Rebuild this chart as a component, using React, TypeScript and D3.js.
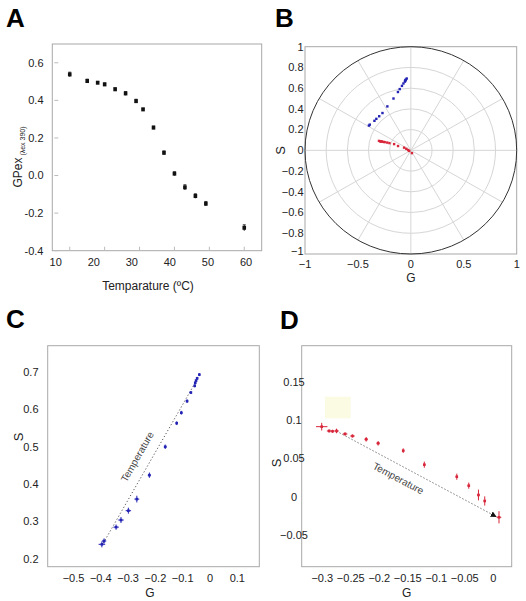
import React from 'react';
import * as d3 from 'd3';

// Panel A: GP vs temperature
const tempA = [10, 15, 18, 20, 23, 26, 29, 31, 34, 37, 40, 43, 46, 49, 60];
const gpA = [0.538, 0.503, 0.494, 0.485, 0.459, 0.437, 0.396, 0.352, 0.255, 0.121, 0.01, -0.063, -0.109, -0.15, -0.278];
const gpErrA = [0.012, 0.01, 0.005, 0.008, 0.008, 0.01, 0.01, 0.006, 0.008, 0.01, 0.01, 0.014, 0.012, 0.012, 0.016];
const xTicksA = [10, 20, 30, 40, 50, 60];
const yTicksA = [-0.4, -0.2, 0, 0.2, 0.4, 0.6];

// Panel C (blue series)
const gC = [-0.039, -0.047, -0.051, -0.054, -0.056, -0.07, -0.084, -0.105, -0.122, -0.164, -0.222, -0.268, -0.299, -0.326, -0.344, -0.388, -0.396];
const sC = [0.693, 0.683, 0.677, 0.671, 0.663, 0.645, 0.622, 0.591, 0.563, 0.5, 0.424, 0.36, 0.329, 0.304, 0.285, 0.248, 0.239];
const gErrC = [0.003, 0.003, 0.003, 0.003, 0.003, 0.004, 0.004, 0.004, 0.004, 0.005, 0.006, 0.009, 0.01, 0.01, 0.01, 0.008, 0.012];
const sErrC = [0.004, 0.004, 0.004, 0.004, 0.004, 0.004, 0.005, 0.005, 0.005, 0.006, 0.007, 0.009, 0.008, 0.008, 0.007, 0.007, 0.008];
const xTicksC = [-0.5, -0.4, -0.3, -0.2, -0.1, 0, 0.1];
const yTicksC = [0.2, 0.3, 0.4, 0.5, 0.6, 0.7];

// Panel D (red series)
const gD = [-0.301, -0.288, -0.282, -0.275, -0.26, -0.247, -0.223, -0.202, -0.158, -0.121, -0.064, -0.043, -0.026, -0.015, 0.01];
const sD = [0.0914, 0.0858, 0.0854, 0.0858, 0.0819, 0.0792, 0.0749, 0.0697, 0.0601, 0.0418, 0.0261, 0.0144, 0.0022, -0.0056, -0.0269];
const gErrD = [0.01, 0.004, 0.003, 0.004, 0.004, 0.004, 0.003, 0.003, 0.002, 0.002, 0.002, 0.002, 0.002, 0.002, 0.004];
const sErrD = [0.005, 0.002, 0.002, 0.003, 0.002, 0.002, 0.003, 0.003, 0.003, 0.004, 0.004, 0.004, 0.007, 0.006, 0.008];
const xTicksD = [-0.3, -0.25, -0.2, -0.15, -0.1, -0.05, 0];
const yTicksD = [-0.05, 0, 0.05, 0.1, 0.15];

// Panel B (phasor plot)
const xTicksB = [-1, -0.5, 0, 0.5, 1];
const yTicksB = [-1, -0.8, -0.6, -0.4, -0.2, 0, 0.2, 0.4, 0.6, 0.8, 1];
const gridRadiiB = [0.2, 0.4, 0.6, 0.8];
const spokeAnglesB = [0, 30, 60, 90, 120, 150, 180, 210, 240, 270, 300, 330];

const FONT = '"Liberation Sans", Arial, Helvetica, sans-serif';
const FRAME = '#a8a8a8';
const BLUE = '#2424b4';
const RED = '#d8263a';

const fmt = (v: number) => {
  const s = d3.format('~g')(+v.toFixed(3));
  return s === '-0' ? '0' : s;
};

function PanelA() {
  const x = d3.scaleLinear().domain([5, 65]).range([52.3, 261.7]);
  const xl = d3.scaleLinear().domain([10, 60]).range([55.7, 246]);
  const y = d3.scaleLinear().domain([-0.4, 0.7]).range([250.7, 44]);
  return (
    <g>
      <text x={6} y={27} fontSize={26} fontWeight="bold" fontFamily={FONT}>A</text>
      <rect x={x(5)} y={y(0.7)} width={x(65) - x(5)} height={y(-0.4) - y(0.7)} fill="none" stroke={FRAME} />
      {yTicksA.map((t) => (
        <g key={t}>
          <line x1={x(5) + 2} x2={x(5) + 6} y1={y(t)} y2={y(t)} stroke="#bbb" />
          <text x={43.5} y={y(t)} dy="0.35em" textAnchor="end" fontSize={11} fontFamily={FONT} fill="#222">
            {t.toFixed(1)}
          </text>
        </g>
      ))}
      {xTicksA.map((t) => (
        <g key={t}>
          <line x1={x(t)} x2={x(t)} y1={y(-0.4)} y2={y(-0.4) - 4} stroke="#bbb" />
          <text x={xl(t)} y={266} textAnchor="middle" fontSize={11} fontFamily={FONT} fill="#222">{t}</text>
        </g>
      ))}
      <text x={148} y={290} textAnchor="middle" fontSize={12} fontFamily={FONT} fill="#222">Temparature (ºC)</text>
      <text transform="translate(21.5,157) rotate(-90)" textAnchor="middle" fontSize={12} fontFamily={FONT} fill="#222">
        GPex<tspan fontSize={7} dy={3}> (λex 390)</tspan>
      </text>
      {tempA.map((t, i) => (
        <g key={i}>
          <line x1={x(t)} x2={x(t)} y1={y(gpA[i] + gpErrA[i])} y2={y(gpA[i] - gpErrA[i])} stroke="#222" />
          <line x1={x(t) - 1.5} x2={x(t) + 1.5} y1={y(gpA[i] + gpErrA[i])} y2={y(gpA[i] + gpErrA[i])} stroke="#444" />
          <rect x={x(t) - 1.8} y={y(gpA[i]) - 2} width={3.6} height={4} fill="#111" />
        </g>
      ))}
    </g>
  );
}

function PanelB() {
  const x = d3.scaleLinear().domain([-1, 1]).range([305, 516.7]);
  const y = d3.scaleLinear().domain([-1, 1]).range([254, 46.7]);
  const cx = x(0), cy = y(0);
  const rx = (r: number) => x(r) - x(0);
  const ry = (r: number) => y(0) - y(r);
  return (
    <g>
      <text x={275} y={27} fontSize={26} fontWeight="bold" fontFamily={FONT}>B</text>
      <rect x={x(-1)} y={y(1)} width={x(1) - x(-1)} height={y(-1) - y(1)} fill="none" stroke={FRAME} />
      {gridRadiiB.map((r) => (
        <ellipse key={r} cx={cx} cy={cy} rx={rx(r)} ry={ry(r)} fill="none" stroke="#d6d6d6" />
      ))}
      {spokeAnglesB.map((a) => {
        const rad = (a * Math.PI) / 180;
        return (
          <line key={a} x1={cx} y1={cy} x2={x(Math.cos(rad))} y2={y(Math.sin(rad))} stroke="#d6d6d6" />
        );
      })}
      <ellipse cx={cx} cy={cy} rx={rx(1)} ry={ry(1)} fill="none" stroke="#333" strokeWidth={1} />
      {yTicksB.map((t) => (
        <text key={t} x={303.5} y={y(t) - (t === -1 ? 3 : 0)} dy="0.35em" textAnchor="end" fontSize={11} fontFamily={FONT} fill="#222">
          {fmt(t)}
        </text>
      ))}
      {xTicksB.map((t) => (
        <text key={t} x={x(t)} y={268} textAnchor="middle" fontSize={11} fontFamily={FONT} fill="#222">{fmt(t)}</text>
      ))}
      <text x={x(0)} y={282} textAnchor="middle" fontSize={12} fontFamily={FONT} fill="#222">G</text>
      <text transform={`translate(285,${cy}) rotate(-90)`} textAnchor="middle" fontSize={13} fontFamily={FONT} fill="#222">S</text>
      {gC.map((g, i) => (
        <rect key={'b' + i} x={x(g) - 1.2} y={y(sC[i]) - 1.2} width={2.4} height={2.4} fill={BLUE} />
      ))}
      {gD.map((g, i) => (
        <rect key={'r' + i} x={x(g) - 1.2} y={y(sD[i]) - 1.2} width={2.4} height={2.4} fill={RED} />
      ))}
    </g>
  );
}

function Cross({ px, py, x0, x1, y0, y1, color }: any) {
  return (
    <g>
      <line x1={x0} x2={x1} y1={py} y2={py} stroke={color} strokeWidth={1} />
      <line x1={px} x2={px} y1={y0} y2={y1} stroke={color} strokeWidth={1} />
      <rect x={px - 1.3} y={py - 1.3} width={2.6} height={2.6} fill={color} />
    </g>
  );
}

function PanelC() {
  const x = d3.scaleLinear().domain([-0.5945, 0.1806]).range([47.7, 259.3]);
  const y = d3.scaleLinear().domain([0.1792, 0.7703]).range([566.7, 345.7]);
  const [x0, x1] = x.domain();
  const [y0, y1] = y.domain();
  const lx1 = x(-0.391), ly1 = y(0.242), lx2 = x(-0.049), ly2 = y(0.678);
  const ang = (Math.atan2(ly2 - ly1, lx2 - lx1) * 180) / Math.PI;
  return (
    <g>
      <text x={6} y={328} fontSize={26} fontWeight="bold" fontFamily={FONT}>C</text>
      <rect x={x(x0)} y={y(y1)} width={x(x1) - x(x0)} height={y(y0) - y(y1)} fill="none" stroke={FRAME} />
      {yTicksC.map((t) => (
        <text key={t} x={38.5} y={y(t)} dy="0.35em" textAnchor="end" fontSize={11} fontFamily={FONT} fill="#222">
          {t.toFixed(1)}
        </text>
      ))}
      {xTicksC.map((t) => (
        <text key={t} x={x(t)} y={582} textAnchor="middle" fontSize={11} fontFamily={FONT} fill="#222">{fmt(t)}</text>
      ))}
      <text x={150} y={597} textAnchor="middle" fontSize={12} fontFamily={FONT} fill="#222">G</text>
      <text transform="translate(23,437) rotate(-90)" textAnchor="middle" fontSize={13} fontFamily={FONT} fill="#222">S</text>
      <line x1={lx1} y1={ly1} x2={lx2} y2={ly2} stroke="#555" strokeDasharray="1.2,2.2" strokeWidth={1} />
      <text transform={`translate(137.3,456.7) rotate(${ang})`} textAnchor="middle" dy="0.35em" fontSize={10} fontFamily={FONT} fill="#444">
        Temperature
      </text>
      {gC.map((g, i) => (
        <Cross key={i} px={x(g)} py={y(sC[i])} x0={x(g - gErrC[i])} x1={x(g + gErrC[i])} y0={y(sC[i] - sErrC[i])} y1={y(sC[i] + sErrC[i])} color={BLUE} />
      ))}
    </g>
  );
}

function PanelD() {
  const x = d3.scaleLinear().domain([-0.3361, 0.0323]).range([301.7, 511.7]);
  const y = d3.scaleLinear().domain([-0.0914, 0.1971]).range([566.7, 345.7]);
  const [x0, x1] = x.domain();
  const [y0, y1] = y.domain();
  const lx1 = x(-0.275), ly1 = y(0.0855), lx2 = x(0.005), ly2 = y(-0.026);
  const ang = (Math.atan2(ly2 - ly1, lx2 - lx1) * 180) / Math.PI;
  return (
    <g>
      <defs>
        <marker id="arrD" viewBox="0 0 10 10" refX="9" refY="5" markerWidth="6" markerHeight="6" orient="auto">
          <path d="M0,0 L10,5 L0,10 z" fill="#111" />
        </marker>
      </defs>
      <text x={280} y={329} fontSize={26} fontWeight="bold" fontFamily={FONT}>D</text>
      <rect x={x(x0)} y={y(y1)} width={x(x1) - x(x0)} height={y(y0) - y(y1)} fill="none" stroke={FRAME} />
      <rect x={325} y={396.7} width={25.7} height={21.6} fill="#fbfbe4" />
      {yTicksD.map((t) => (
        <text key={t} x={294} y={y(t)} dy="0.35em" textAnchor="middle" fontSize={11} fontFamily={FONT} fill="#222">
          {fmt(t)}
        </text>
      ))}
      {xTicksD.map((t) => (
        <text key={t} x={x(t)} y={582} textAnchor="middle" fontSize={11} fontFamily={FONT} fill="#222">{fmt(t)}</text>
      ))}
      <text x={406.7} y={597} textAnchor="middle" fontSize={12} fontFamily={FONT} fill="#222">G</text>
      <text transform="translate(281,463) rotate(-90)" textAnchor="middle" fontSize={13} fontFamily={FONT} fill="#222">S</text>
      <line x1={lx1} y1={ly1} x2={lx2} y2={ly2} stroke="#555" strokeDasharray="1.2,2.2" strokeWidth={1} markerEnd="url(#arrD)" />
      <text transform={`translate(398.3,478.3) rotate(${ang})`} textAnchor="middle" dy="0.35em" fontSize={10} fontFamily={FONT} fill="#444">
        Temperature
      </text>
      {gD.map((g, i) => (
        <Cross key={i} px={x(g)} py={y(sD[i])} x0={x(g - gErrD[i])} x1={x(g + gErrD[i])} y0={y(sD[i] - sErrD[i])} y1={y(sD[i] + sErrD[i])} color={RED} />
      ))}
    </g>
  );
}

export default function App() {
  return (
    <svg width={526} height={601} style={{ position: 'absolute', left: 0, top: 0, background: '#fff' }}>
      <rect width={526} height={601} fill="#fff" />
      <PanelA />
      <PanelB />
      <PanelC />
      <PanelD />
    </svg>
  );
}
